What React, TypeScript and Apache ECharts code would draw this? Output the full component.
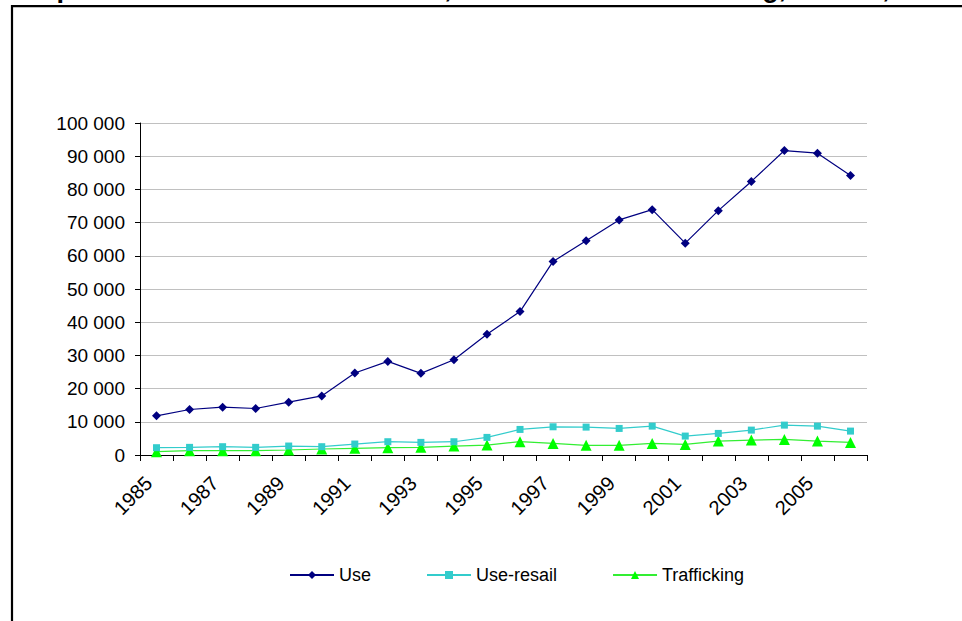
import React, { useEffect, useRef } from "react";
import * as echarts from "echarts";

const years = [
  "1985", "1986", "1987", "1988", "1989", "1990", "1991", "1992", "1993", "1994", "1995",
  "1996", "1997", "1998", "1999", "2000", "2001", "2002", "2003", "2004", "2005", "2006",
];
const useValues = [
  11800, 13700, 14400, 14000, 15900, 17800, 24700, 28200, 24600, 28700, 36400,
  43200, 58300, 64500, 70800, 73900, 63800, 73600, 82400, 91700, 90900, 84200,
];
const useResailValues = [
  2200, 2300, 2500, 2300, 2700, 2500, 3300, 4000, 3800, 4000, 5300,
  7700, 8500, 8400, 8000, 8700, 5700, 6500, 7500, 9000, 8700, 7200,
];
const traffickingValues = [
  1000, 1300, 1300, 1300, 1500, 1800, 2000, 2200, 2300, 2700, 3000,
  4000, 3500, 2900, 2900, 3500, 3200, 4200, 4500, 4700, 4200, 3800,
];
const seriesNames = ["Use", "Use-resail", "Trafficking"];
const titleText =
  "Graph 1: Arrests for cannabis use, use-resail and trafficking, France, 1985-2006";

const FONT = "'Liberation Sans', Arial, sans-serif";

export default function App() {
  const ref = useRef<HTMLDivElement>(null);
  useEffect(() => {
    document.body.style.margin = "0";
    const chart = echarts.init(ref.current as HTMLDivElement, null, { renderer: "svg" });
    chart.setOption({
      animation: false,
      backgroundColor: "#ffffff",
      textStyle: { fontFamily: FONT },
      graphic: [
        {
          type: "rect",
          shape: { x: 12, y: 6.2, width: 1000, height: 700 },
          style: { fill: "none", stroke: "#000000", lineWidth: 2.2 },
          z: 1,
        },
        {
          type: "text",
          x: 10,
          y: -12,
          style: {
            text: titleText,
            font: `bold 27px ${FONT}`,
            fill: "#000000",
            verticalAlign: "middle",
            align: "left",
          },
          z: 2,
        },
      ],
      grid: { left: 140, right: 95, top: 123, bottom: 166, containLabel: false },
      legend: {
        data: seriesNames,
        left: 284,
        top: 561,
        itemWidth: 44,
        itemHeight: 10,
        itemGap: 55,
        textStyle: { fontSize: 18, color: "#000000", fontFamily: FONT },
      },
      xAxis: {
        type: "category",
        data: years,
        boundaryGap: true,
        axisLine: { lineStyle: { color: "#000000", width: 1 } },
        axisTick: { show: true, interval: 0, length: 6, lineStyle: { color: "#000000" } },
        axisLabel: {
          interval: 1,
          rotate: 45,
          margin: 17,
          padding: [0, 11, 0, 0],
          fontSize: 20,
          color: "#000000",
          fontFamily: FONT,
        },
        splitLine: { show: false },
      },
      yAxis: {
        type: "value",
        min: 0,
        max: 100000,
        interval: 10000,
        axisLine: { show: true, lineStyle: { color: "#000000", width: 1 } },
        axisTick: { show: true, length: 5, lineStyle: { color: "#000000" } },
        axisLabel: {
          margin: 15,
          fontSize: 19,
          color: "#000000",
          fontFamily: FONT,
          formatter: (v: number) => String(v).replace(/\B(?=(\d{3})+(?!\d))/g, " "),
        },
        splitLine: { show: true, lineStyle: { color: "#c0c0c0", width: 1 } },
      },
      series: [
        {
          name: "Use",
          type: "line",
          data: useValues,
          symbol: "diamond",
          symbolSize: 9,
          itemStyle: { color: "#000080" },
          lineStyle: { color: "#000080", width: 1.2 },
          z: 4,
        },
        {
          name: "Use-resail",
          type: "line",
          data: useResailValues,
          symbol: "rect",
          symbolSize: 7,
          itemStyle: { color: "#33cccc" },
          lineStyle: { color: "#33cccc", width: 1.2 },
          z: 3,
        },
        {
          name: "Trafficking",
          type: "line",
          data: traffickingValues,
          symbol: "triangle",
          symbolSize: 11,
          itemStyle: { color: "#00ff00" },
          lineStyle: { color: "#33ee33", width: 1.2 },
          z: 2,
        },
      ],
    });
    return () => chart.dispose();
  }, []);
  return <div ref={ref} style={{ width: 962, height: 621 }} />;
}
